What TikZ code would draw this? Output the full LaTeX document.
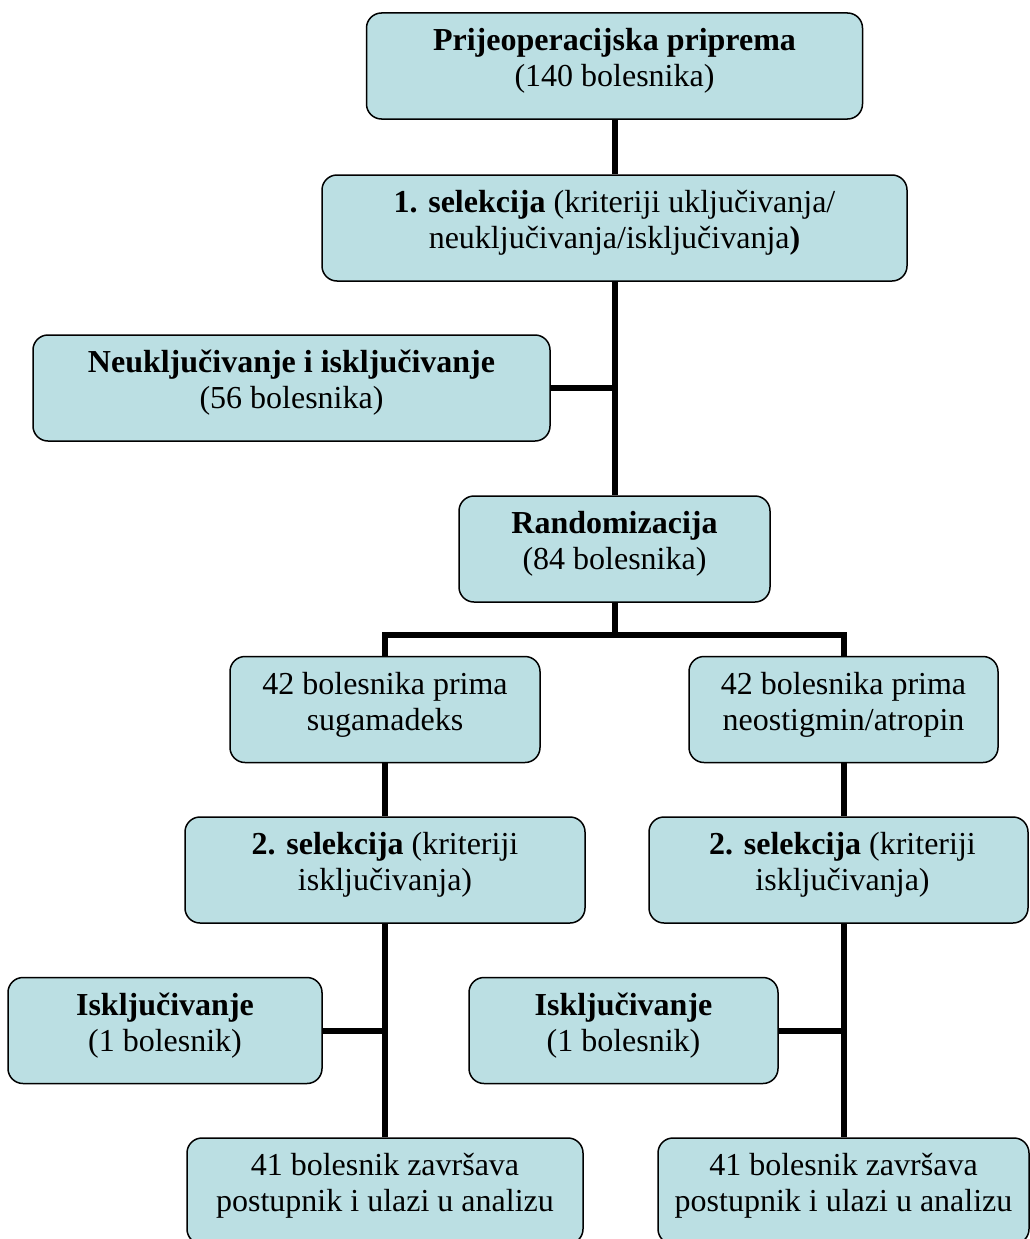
\documentclass[tikz,border=0pt]{standalone}
\usepackage{fontspec}
\setmainfont{Liberation Serif}
\definecolor{boxfill}{HTML}{BBDFE3}
\begin{document}
\begin{tikzpicture}[x=1pt,y=-1pt,
  box/.style={draw=black, line width=1.5pt, fill=boxfill, rounded corners=15pt, inner sep=0pt, minimum height=106pt},
  txt/.style={align=center, inner sep=0pt, font=\fontsize{32}{36}\selectfont},
  conn/.style={line width=6pt, draw=black}]
\useasboundingbox (0,0) rectangle (1030,1239);
\fill[white] (0,0) rectangle (1030,1239);
\coordinate (fk) at (614.5,635);
% boxes
\node[box, minimum width=496pt] (b1) at (614.5,66) {};
\node[box, minimum width=585pt] (b2) at (614.5,228) {};
\node[box, minimum width=517pt] (b3) at (291.5,388) {};
\node[box, minimum width=311pt] (b4) at (614.5,549) {};
\node[box, minimum width=310pt] (b5) at (385,709.5) {};
\node[box, minimum width=309pt] (b6) at (843.5,709.5) {};
\node[box, minimum width=400pt] (b7) at (385,870) {};
\node[box, minimum width=379pt] (b8) at (838.5,870) {};
\node[box, minimum width=314pt] (b9) at (165,1030.5) {};
\node[box, minimum width=309pt] (b10) at (623.5,1030.5) {};
\node[box, minimum width=396pt] (b11) at (385,1191) {};
\node[box, minimum width=371pt] (b12) at (843.5,1191) {};
% texts
\node[txt] (t1) at ([yshift=5pt]b1.center) {\textbf{Prijeoperacijska priprema}\\(140 bolesnika)};
\node[txt] (t2) at ([yshift=5pt]b2.center) {\textbf{1. selekcija} (kriteriji uključivanja/\\neuključivanja/isključivanja\textbf{)}};
\node[txt] (t3) at ([yshift=5pt]b3.center) {\textbf{Neuključivanje i isključivanje}\\(56 bolesnika)};
\node[txt] (t4) at ([yshift=5pt]b4.center) {\textbf{Randomizacija}\\(84 bolesnika)};
\node[txt] (t5) at ([yshift=5pt]b5.center) {42 bolesnika prima\\sugamadeks};
\node[txt] (t6) at ([yshift=5pt]b6.center) {42 bolesnika prima\\neostigmin/atropin};
\node[txt] (t7) at ([yshift=5pt]b7.center) {\textbf{2. selekcija} (kriteriji\\isključivanja)};
\node[txt] (t8) at ([yshift=5pt, xshift=4pt]b8.center) {\textbf{2. selekcija} (kriteriji\\isključivanja)};
\node[txt] (t9) at ([yshift=5pt]b9.center) {\textbf{Isključivanje}\\(1 bolesnik)};
\node[txt] (t10) at ([yshift=5pt]b10.center) {\textbf{Isključivanje}\\(1 bolesnik)};
\node[txt] (t11) at ([yshift=5pt]b11.center) {41 bolesnik završava\\postupnik i ulazi u analizu};
\node[txt] (t12) at ([yshift=5pt]b12.center) {41 bolesnik završava\\postupnik i ulazi u analizu};
% connectors
\draw[conn] (b1.south) -- (b2.north);
\draw[conn] (b2.south) -- (b4.north);
\draw[conn] (b3.east) -- (b3.east -| b2.south);
\draw[conn] (b4.south) -- (fk);
\draw[conn] (b5.north) |- (fk) -| (b6.north);
\draw[conn] (b5.south) -- (b7.north);
\draw[conn] (b7.south) -- (b11.north);
\draw[conn] (b9.east) -- (b9.east -| b7.south);
\draw[conn] (b6.south) -- (b6.south |- b8.north);
\draw[conn] (b6.south |- b8.south) -- (b12.north);
\draw[conn] (b10.east) -- (b10.east -| b12.north);
\end{tikzpicture}
\end{document}
